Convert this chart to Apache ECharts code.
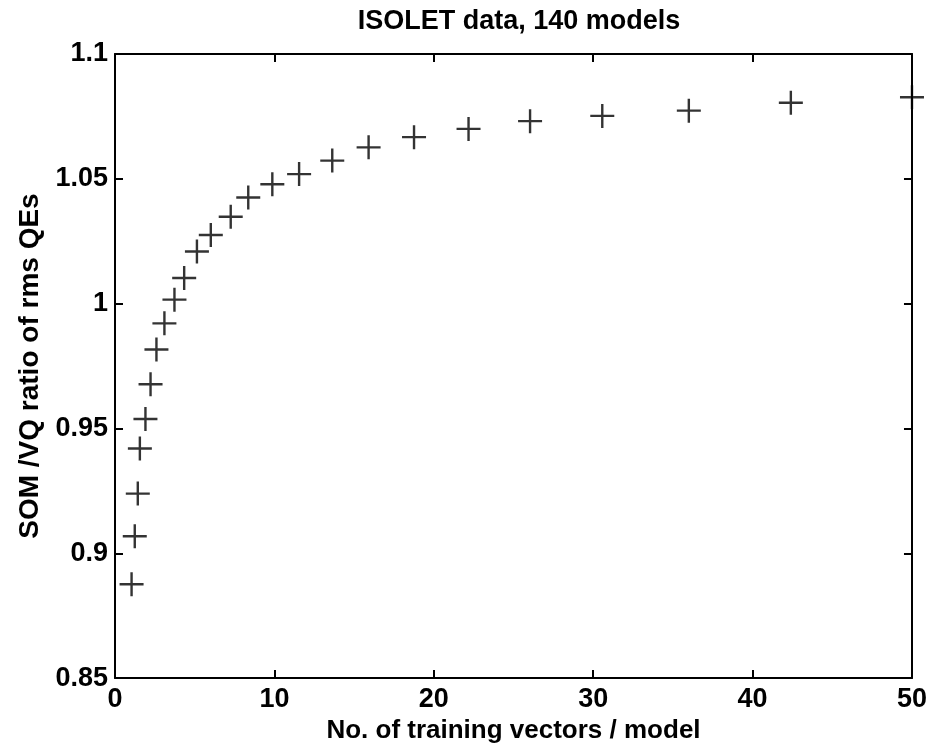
<!DOCTYPE html>
<html>
<head>
    <meta charset="utf-8">
    <title>ISOLET data, 140 models</title>
    <script src="https://cdn.jsdelivr.net/npm/echarts@6/dist/echarts.min.js"></script>
    <style>
        html, body { margin: 0; padding: 0; background: #fff; }
        #main { width: 930px; height: 749px; }
    </style>
</head>
<body>
<div id="main"></div>
<script type="text/javascript">
    // training vectors per model (x) and SOM/VQ ratio (y)
    var vectorsPerModel = [1.04, 1.24, 1.43, 1.56, 1.91, 2.23, 2.6, 3.1, 3.73, 4.34, 5.14, 6.01, 7.26,
        8.36, 9.87, 11.55, 13.63, 15.91, 18.76, 22.18, 26.04, 30.57, 36.0, 42.4, 50];
    var qeRatio = [0.8876, 0.9068, 0.9239, 0.942, 0.9538, 0.9677, 0.9816, 0.9921, 1.0016, 1.0103,
        1.0209, 1.0275, 1.0348, 1.0425, 1.0478, 1.0519, 1.0573, 1.0626, 1.0667, 1.07, 1.0731,
        1.0752, 1.0773, 1.0805, 1.0827];
    var xTicks = [0, 10, 20, 30, 40, 50];
    var yTicks = [0.85, 0.9, 0.95, 1, 1.05, 1.1];

    var points = [];
    for (var i = 0; i < vectorsPerModel.length; i++) {
        points.push([vectorsPerModel[i], qeRatio[i]]);
    }

    var font = '"Liberation Sans", Arial, Helvetica, sans-serif';
    var lineStyle = {color: '#000', width: 2};

    var myChart = echarts.init(document.getElementById('main'));
    var option = {
        backgroundColor: '#fff',
        animation: false,
        title: {
            text: 'ISOLET data, 140 models',
            left: 514,
            top: 3,
            textAlign: 'center',
            textStyle: {fontFamily: font, fontSize: 27, fontWeight: 'bold', color: '#000'}
        },
        grid: {left: 115, right: 18, top: 54, bottom: 64, containLabel: false},
        xAxis: [{
            type: 'value',
            min: xTicks[0],
            max: xTicks[xTicks.length - 1],
            interval: 10,
            position: 'bottom',
            name: 'No. of training vectors / model',
            nameLocation: 'middle',
            nameGap: 26,
            nameTextStyle: {fontFamily: font, fontSize: 26, fontWeight: 'bold', color: '#000'},
            axisLine: {show: true, onZero: false, lineStyle: lineStyle},
            axisTick: {show: true, inside: true, length: 8, lineStyle: lineStyle},
            axisLabel: {fontFamily: font, fontSize: 27, fontWeight: 'bold', color: '#000', margin: 8},
            splitLine: {show: false}
        }, {
            type: 'value',
            min: xTicks[0],
            max: xTicks[xTicks.length - 1],
            interval: 10,
            position: 'top',
            axisLine: {show: true, onZero: false, lineStyle: lineStyle},
            axisTick: {show: true, inside: true, length: 8, lineStyle: lineStyle},
            axisLabel: {show: false},
            splitLine: {show: false}
        }],
        yAxis: [{
            type: 'value',
            min: yTicks[0],
            max: yTicks[yTicks.length - 1],
            interval: 0.05,
            position: 'left',
            name: 'SOM /VQ ratio of rms QEs',
            nameLocation: 'middle',
            nameGap: 70,
            nameTextStyle: {fontFamily: font, fontSize: 28, fontWeight: 'bold', color: '#000'},
            axisLine: {show: true, onZero: false, lineStyle: lineStyle},
            axisTick: {show: true, inside: true, length: 8, lineStyle: lineStyle},
            axisLabel: {
                fontFamily: font, fontSize: 27, fontWeight: 'bold', color: '#000', margin: 7,
                formatter: function (v) { return String(Math.round(v * 100) / 100); }
            },
            splitLine: {show: false}
        }, {
            type: 'value',
            min: yTicks[0],
            max: yTicks[yTicks.length - 1],
            interval: 0.05,
            position: 'right',
            axisLine: {show: true, onZero: false, lineStyle: lineStyle},
            axisTick: {show: true, inside: true, length: 8, lineStyle: lineStyle},
            axisLabel: {show: false},
            splitLine: {show: false}
        }],
        series: [{
            type: 'scatter',
            xAxisIndex: 0,
            yAxisIndex: 0,
            data: points,
            clip: false,
            symbol: 'path://M12,0L12,24M0,12L24,12',
            symbolSize: [24, 24],
            itemStyle: {color: 'rgba(0,0,0,0)', borderColor: '#000', borderWidth: 2.4}
        }]
    };

    myChart.setOption(option);
</script>
</body>
</html>
